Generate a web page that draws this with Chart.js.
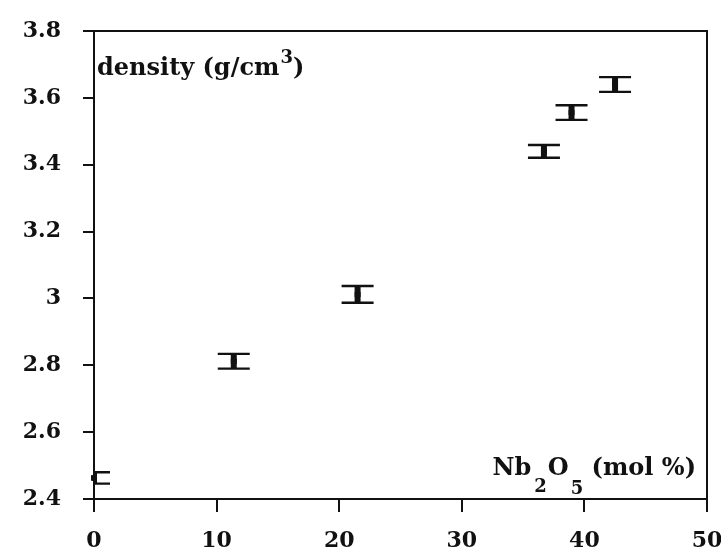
<!DOCTYPE html>
<html>
<head>
<meta charset="utf-8">
<script src="https://cdn.jsdelivr.net/npm/chart.js@4.4.1/dist/chart.umd.min.js"></script>
<style>
  html, body { margin: 0; padding: 0; background: #fff; }
  #wrap { width: 721px; height: 554px; }
</style>
</head>
<body>
<div id="wrap"><canvas id="density-chart" width="721" height="554"></canvas></div>
<script>
// Nb2O5 content (mol %) and measured density (g/cm3) with error
const nbContent = [0, 11.4, 21.5, 36.7, 38.95, 42.5];
const density = [2.463, 2.812, 3.012, 3.440, 3.556, 3.640];
const densityErr = [0.017, 0.022, 0.025, 0.019, 0.022, 0.022];

const xTicks = [0, 10, 20, 30, 40, 50];
const xTickLabels = ['0', '10', '20', '30', '40', '50'];
const yTicks = [2.4, 2.6, 2.8, 3.0, 3.2, 3.4, 3.6, 3.8];
const yTickLabels = ['2.4', '2.6', '2.8', '3', '3.2', '3.4', '3.6', '3.8'];

const INK = '#111';
const SERIF = '"DejaVu Serif", "Liberation Serif", serif';

// I-beam error bars: thick stem plus wide caps
const errorBars = {
  id: 'errorBars',
  afterDatasetsDraw(chart) {
    const { ctx, chartArea, scales } = chart;
    const x = scales.x, y = scales.y;
    ctx.save();
    ctx.beginPath();
    ctx.rect(chartArea.left, chartArea.top, chartArea.right - chartArea.left, chartArea.bottom - chartArea.top);
    ctx.clip();
    ctx.strokeStyle = INK;
    nbContent.forEach((v, i) => {
      const px = x.getPixelForValue(v);
      const top = y.getPixelForValue(density[i] + densityErr[i]);
      const bot = y.getPixelForValue(density[i] - densityErr[i]);
      ctx.lineWidth = 6;
      ctx.beginPath();
      ctx.moveTo(px, top);
      ctx.lineTo(px, bot);
      ctx.stroke();
      ctx.lineWidth = 2.4;
      ctx.beginPath();
      ctx.moveTo(px - 16, top);
      ctx.lineTo(px + 16, top);
      ctx.moveTo(px - 16, bot);
      ctx.lineTo(px + 16, bot);
      ctx.stroke();
    });
    ctx.restore();
  }
};

// Box frame and in-plot axis captions
const frameAndCaptions = {
  id: 'frameAndCaptions',
  afterDraw(chart) {
    const { ctx, chartArea } = chart;
    ctx.save();
    ctx.strokeStyle = INK;
    ctx.lineWidth = 2;
    ctx.beginPath();
    ctx.moveTo(chartArea.left, chartArea.top);
    ctx.lineTo(chartArea.right, chartArea.top);
    ctx.lineTo(chartArea.right, chartArea.bottom);
    ctx.stroke();

    ctx.fillStyle = INK;
    ctx.textBaseline = 'alphabetic';
    ctx.textAlign = 'left';

    // density (g/cm^3)
    const big = 'bold 24px ' + SERIF;
    const small = 'bold 18px ' + SERIF;
    let cx = chartArea.left + 3;
    const by = chartArea.top + 44;
    ctx.font = big;
    ctx.fillText('density (g/cm', cx, by);
    cx += ctx.measureText('density (g/cm').width + 1;
    ctx.font = small;
    ctx.fillText('3', cx, by - 12);
    cx += ctx.measureText('3').width;
    ctx.font = big;
    ctx.fillText(')', cx, by);

    // Nb2O5 (mol %)
    const parts = [
      ['Nb', big, 0, 3], ['2', small, 17, 1], ['O', big, 0, 2], ['5', small, 19, 0], [' (mol %)', big, 0, 0]
    ];
    let total = 0;
    parts.forEach(p => { ctx.font = p[1]; total += ctx.measureText(p[0]).width + p[3]; });
    cx = chartArea.right - 11 - total;
    const ny = chartArea.bottom - 24;
    parts.forEach(p => {
      ctx.font = p[1];
      ctx.fillText(p[0], cx, ny + p[2]);
      cx += ctx.measureText(p[0]).width + p[3];
    });
    ctx.restore();
  }
};

const ctx = document.getElementById('density-chart').getContext('2d');

new Chart(ctx, {
  type: 'scatter',
  data: {
    datasets: [{
      data: nbContent.map((v, i) => ({ x: v, y: density[i] })),
      pointStyle: 'rect',
      pointRadius: 3.5,
      pointBackgroundColor: INK,
      pointBorderColor: INK,
      pointBorderWidth: 1,
      clip: false
    }]
  },
  options: {
    responsive: false,
    animation: false,
    layout: { padding: { top: 31, right: 14, left: 0, bottom: 0 } },
    plugins: {
      legend: { display: false },
      tooltip: { enabled: false }
    },
    scales: {
      x: {
        type: 'linear',
        min: 0,
        max: 50,
        afterBuildTicks: (scale) => { scale.ticks = xTicks.map(v => ({ value: v })); },
        afterFit: (scale) => { scale.height = 55; scale.paddingRight = 0; scale.paddingLeft = 0; },
        ticks: {
          color: INK,
          padding: 16,
          maxRotation: 0,
          font: { family: SERIF, size: 22, weight: 'bold' },
          callback: (value) => xTickLabels[xTicks.indexOf(value)]
        },
        grid: { drawOnChartArea: false, drawTicks: true, tickLength: 13, color: INK, lineWidth: 2 },
        border: { display: true, color: INK, width: 2 }
      },
      y: {
        type: 'linear',
        min: 2.4,
        max: 3.8,
        afterBuildTicks: (scale) => { scale.ticks = yTicks.map(v => ({ value: v })); },
        afterFit: (scale) => { scale.width = 94; scale.paddingTop = 0; scale.paddingBottom = 0; },
        ticks: {
          color: INK,
          padding: 22,
          font: { family: SERIF, size: 22, weight: 'bold' },
          callback: (value) => {
            const i = yTicks.findIndex(t => Math.abs(t - value) < 1e-6);
            return i >= 0 ? yTickLabels[i] : '';
          }
        },
        grid: { drawOnChartArea: false, drawTicks: true, tickLength: 11, color: INK, lineWidth: 2 },
        border: { display: true, color: INK, width: 2 }
      }
    }
  },
  plugins: [errorBars, frameAndCaptions]
});
</script>
</body>
</html>
